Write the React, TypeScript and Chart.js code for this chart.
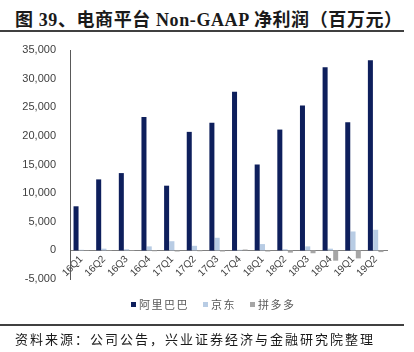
import React, { useEffect, useRef } from "react";
import { Chart, registerables } from "chart.js";

Chart.register(...registerables);

const categories = ["16Q1", "16Q2", "16Q3", "16Q4", "17Q1", "17Q2", "17Q3", "17Q4", "18Q1", "18Q2", "18Q3", "18Q4", "19Q1", "19Q2"];
const alibaba = [7700, 12400, 13500, 23300, 11300, 20700, 22300, 27700, 15000, 21100, 25300, 32000, 22400, 33200];
const jd = [100, 300, 200, 700, 1600, 800, 2200, 100, 1100, 200, 700, 300, 3300, 3600];
const pdd = [-50, -80, -100, -150, -200, -150, -200, 150, -200, -400, -500, -1800, -1400, -300];
const seriesNames = ["阿里巴巴", "京东", "拼多多"];
const seriesColors = ["#0e1f5c", "#b8cce4", "#a6a6a6"];
const yTicks = { min: -5000, max: 35000, step: 5000 };

const titleText = "图 39、电商平台 Non-GAAP 净利润（百万元）";
const sourceText = "资料来源：公司公告，兴业证券经济与金融研究院整理";

const serifFont = '"Liberation Serif", "Noto Sans CJK SC", serif';
const sansFont = '"Liberation Sans", "Noto Sans CJK SC", sans-serif';

export default function App() {
  const ref = useRef<HTMLCanvasElement | null>(null);

  useEffect(() => {
    if (!ref.current) return;
    const chart = new Chart(ref.current, {
      type: "bar",
      data: {
        labels: categories,
        datasets: [alibaba, jd, pdd].map((d, i) => ({
          label: seriesNames[i],
          data: d,
          backgroundColor: seriesColors[i],
          borderWidth: 0,
          categoryPercentage: 0.7,
          barPercentage: 0.95,
        })),
      },
      options: {
        responsive: false,
        animation: false,
        layout: { padding: { top: 50, bottom: 73, left: 0, right: 27 } },
        plugins: {
          legend: { display: false },
          title: { display: false },
          tooltip: { enabled: false },
        },
        scales: {
          x: {
            position: { y: 0 } as any,
            grid: { display: false, drawTicks: false },
            border: { display: true, color: "#808080", width: 1 },
            ticks: {
              minRotation: 45,
              maxRotation: 45,
              autoSkip: false,
              padding: 3,
              color: "#404040",
              font: { size: 10, family: sansFont },
            },
          },
          y: {
            min: yTicks.min,
            max: yTicks.max,
            grid: { display: false },
            border: { display: true, color: "#595959", width: 1 },
            ticks: {
              stepSize: yTicks.step,
              padding: 6,
              color: "#404040",
              font: { size: 11, family: sansFont },
              callback: (v: any) => Number(v).toLocaleString("en-US"),
            },
            afterFit: (s: any) => {
              s.width = 70;
            },
          },
        },
      },
    });
    return () => chart.destroy();
  }, []);

  return (
    <div style={{ position: "absolute", left: 0, top: 0, width: 414, height: 352, background: "#fff", overflow: "hidden" }}>
      <div
        style={{
          position: "absolute",
          left: 15,
          top: 5,
          fontFamily: serifFont,
          fontWeight: "bold",
          fontSize: 18,
          color: "#1a1a1a",
          whiteSpace: "nowrap",
          letterSpacing: 0.6,
        }}
      >
        {titleText}
      </div>
      <div style={{ position: "absolute", left: 0, top: 30, width: 404, height: 2, background: "#404040" }} />
      <canvas ref={ref} width={414} height={352} style={{ position: "absolute", left: 0, top: 0 }} />
      <div
        style={{
          position: "absolute",
          left: 0,
          width: 414,
          top: 296,
          display: "flex",
          justifyContent: "flex-start",
          paddingLeft: 131,
          boxSizing: "border-box",
          fontFamily: sansFont,
          fontSize: 11,
          color: "#595959",
          whiteSpace: "nowrap",
        }}
      >
        {seriesNames.map((n, i) => (
          <span key={n} style={{ display: "inline-flex", alignItems: "center", marginRight: 14 }}>
            <span style={{ display: "inline-block", width: 5, height: 5, background: seriesColors[i], marginRight: 3 }} />
            <span style={{ letterSpacing: 1.5 }}>{n}</span>
          </span>
        ))}
      </div>
      <div style={{ position: "absolute", left: 0, top: 324, width: 404, height: 2, background: "#404040" }} />
      <div
        style={{
          position: "absolute",
          left: 15,
          top: 329,
          fontFamily: serifFont,
          fontSize: 13,
          letterSpacing: 2,
          color: "#1a1a1a",
          whiteSpace: "nowrap",
        }}
      >
        {sourceText}
      </div>
    </div>
  );
}
